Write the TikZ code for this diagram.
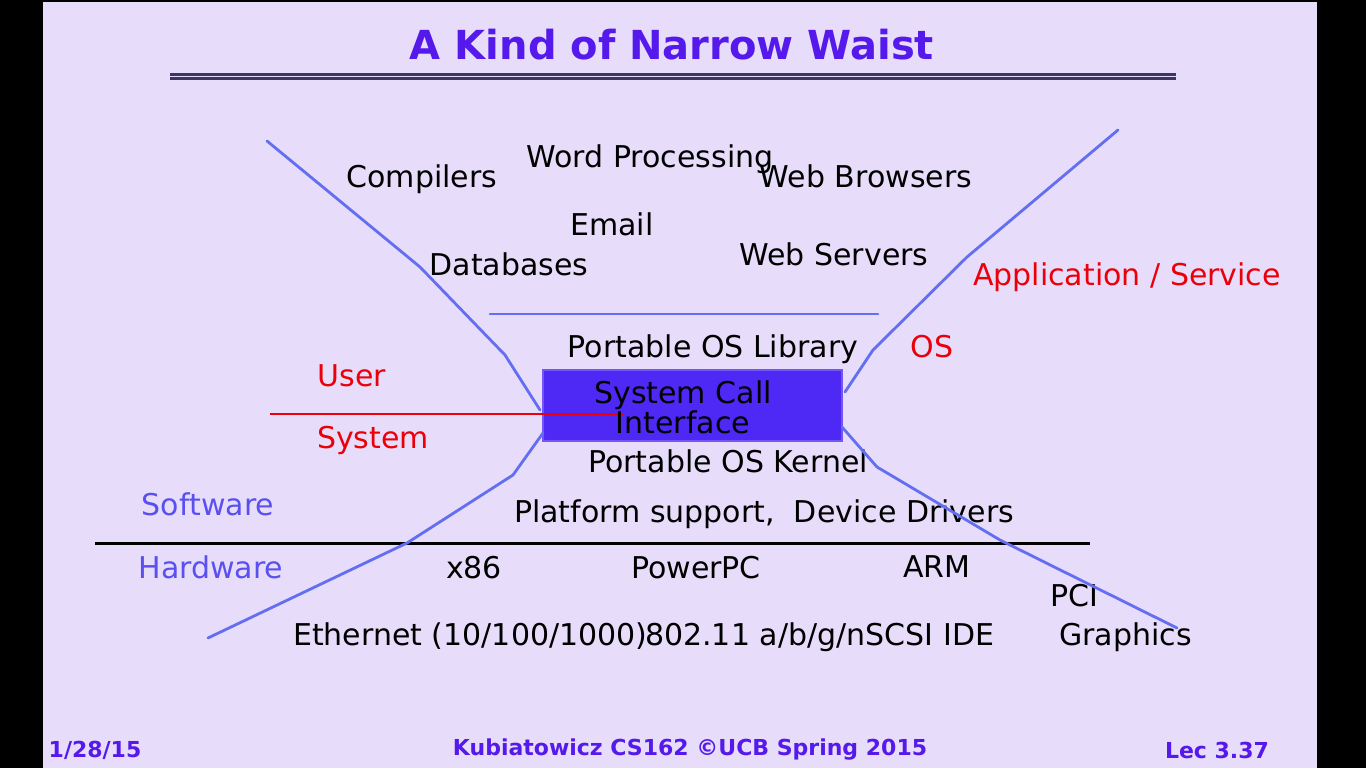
\documentclass[tikz,border=0pt]{standalone}
\usepackage{fontspec}
\setmainfont{DejaVu Sans}
\definecolor{slidebg}{RGB}{231,221,250}
\definecolor{titleblue}{RGB}{85,25,235}
\definecolor{waistblue}{RGB}{100,110,240}
\definecolor{callblue}{RGB}{78,40,244}
\definecolor{callrim}{RGB}{115,85,250}
\definecolor{layerred}{RGB}{235,0,10}
\definecolor{swblue}{RGB}{90,80,240}
\definecolor{ruledark}{RGB}{60,55,95}
\tikzset{
  lbl/.style={font=\fontsize{30}{33}\selectfont, inner sep=0pt, text height=24pt, text depth=4pt},
  redlbl/.style={lbl, text=layerred},
  hwlbl/.style={lbl, text=swblue},
  foot/.style={font=\bfseries\fontsize{22}{25}\selectfont, text=titleblue, inner sep=0pt},
  waist/.style={draw=waistblue, line width=2.8pt, line join=round, line cap=round},
}
\begin{document}
\begin{tikzpicture}[x=1pt,y=-1pt]
\fill[black] (0,0) rectangle (1366,768);
\fill[slidebg] (43,2) rectangle (1317,768);
\useasboundingbox (0,0) rectangle (1366,768);

% title and rule
\node[font=\bfseries\fontsize{40}{44}\selectfont, text=titleblue] (title) at (672,45) {A Kind of Narrow Waist};
\draw[ruledark, line width=2.5pt] (170,74.5) -- (1176,74.5);
\draw[ruledark, line width=2.5pt] (170,78.5) -- (1176,78.5);

% applications
\node[lbl] (wordproc) at (650,157) {Word Processing};
\node[lbl] (compilers) at (422,177) {Compilers};
\node[lbl] (browsers) at (866,177) {Web Browsers};
\node[lbl] (email) at (612,225) {Email};
\node[lbl] (databases) at (509,265) {Databases};
\node[lbl] (servers) at (834,255) {Web Servers};
\node[redlbl] (appsvc) at (1127,275) {Application / Service};
\draw[waist] (490,314) -- (878,314);

% os layer
\node[lbl] (oslib) at (713,347) {Portable OS Library};
\node[redlbl] (os) at (932,347) {OS};
\node[redlbl] (user) at (352,376) {User};
\node[redlbl] (system) at (373,438) {System};
\node[fill=callblue, draw=callrim, line width=1.5pt, minimum width=299pt, minimum height=71pt, inner sep=0pt] (syscall) at (692.5,405.5) {};
\coordinate (usleft) at (270,414);
\coordinate (usright) at (623,414);
\draw[layerred, line width=2.5pt] (usleft) -- (usright);
\node[font=\fontsize{30}{30}\selectfont, align=center, inner sep=0pt] (sctext) at (683,407) {System Call\\Interface};
\node[lbl] (kernel) at (728,462) {Portable OS Kernel};
\node[lbl] (drivers) at (764,512) {Platform support,\ \ Device Drivers};

% software / hardware
\node[hwlbl] (software) at (208,505) {Software};
\draw[black, line width=3pt] (95,543) -- (1090,543);
\node[hwlbl] (hardware) at (211,568) {Hardware};
\node[lbl] (x86) at (474,568) {x86};
\node[lbl] (ppc) at (696,568) {PowerPC};
\node[lbl] (arm) at (937,567) {ARM};
\node[lbl] (pci) at (1074,596) {PCI};
\node[lbl, anchor=west] (ethernet) at (293,635) {Ethernet (10/100/1000)};
\node[lbl, anchor=west] (wifi) at (645,635) {802.11 a/b/g/n};
\node[lbl, anchor=west] (scsi) at (wifi.east) {SCSI IDE};
\node[lbl, anchor=west] (graphics) at (1059,635) {Graphics};

% the waist
\draw[waist] (267,141) -- (420,267) -- (505,355) -- (540,410);
\draw[waist] (543,433) -- (513,475) -- (407,543) -- (208,638);
\draw[waist] (1118,130) -- (967,257) -- (873,350) -- (845,392);
\draw[waist] (842,427) -- (877,467) -- (1000,540) -- (1177,628);

% footer
\node[foot] (date) at (95,750) {1/28/15};
\node[foot] (course) at (690,750) {Kubiatowicz CS162 ©UCB Spring 2015};
\node[foot] (lec) at (1217,750) {Lec 3.37};
\end{tikzpicture}
\end{document}
